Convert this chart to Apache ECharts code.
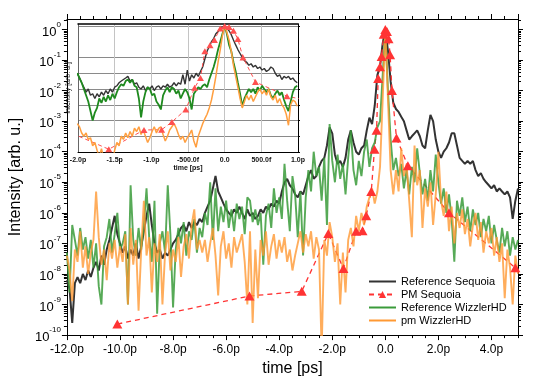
<!DOCTYPE html>
<html>
<head>
<meta charset="utf-8">
<script src="https://cdn.jsdelivr.net/npm/echarts@6/dist/echarts.min.js"></script>
<style>
  html, body { margin: 0; padding: 0; background: #fff; }
  #chart { width: 535px; height: 382px; }
</style>
</head>
<body>
<div id="chart"></div>
<script>
// main plot: samples every 0.1 ps from -12 ps
const MAIN_T0 = -12
const MAIN_DT = 0.1
const REF_SEQUOIA = [
  6.3e-9, 3.2e-9, 2.5e-10, 5e-9, 7.9e-9, 5e-9, 1e-8, 6.3e-9, 1.3e-8, 8e-9,
  1.6e-8, 2.5e-8, 1.3e-8, 4e-8, 2e-8, 6.3e-8, 1.3e-7, 3.2e-7, 8e-7, 2e-7,
  1e-7, 5e-8, 8e-8, 3.2e-8, 6.3e-8, 4e-8, 1e-7, 3.2e-8, 8e-8, 2.5e-7,
  8e-7, 2e-6, 4e-7, 1e-7, 5e-8, 6.3e-8, 3.2e-8, 5e-8, 4e-8, 6.3e-8,
  1e-7, 1.3e-7, 2e-7, 3.2e-7, 4e-7, 2.5e-7, 5e-7, 3.2e-7, 5e-7, 4e-7,
  6.3e-7, 5e-7, 1e-6, 1.6e-6, 2.5e-6, 6.3e-6, 1.6e-5, 5e-6, 3.2e-6, 2e-6,
  1.3e-6, 1e-6, 8e-7, 1.3e-6, 1e-6, 1.6e-6, 1e-6, 6.3e-7, 1.3e-6, 8e-7,
  1e-6, 6.3e-7, 8e-7, 1.3e-6, 1e-6, 1.6e-6, 1.3e-6, 2e-6, 1.6e-6, 2.5e-6,
  2e-6, 5e-6, 1e-5, 1.3e-5, 8e-6, 6.3e-6, 4e-6, 3.2e-6, 5e-6, 4e-6,
  8e-6, 1.6e-5, 2.5e-5, 1.3e-5, 1.6e-5, 3.2e-5, 5e-5, 6.3e-5, 1.6e-4, 6.3e-4,
  4e-4, 8e-5, 4e-5, 5e-5, 3.2e-5, 6.3e-5, 2.5e-4, 5e-4, 2e-4, 1e-4,
  8e-5, 1.3e-4, 1.6e-4, 5e-4, 1.3e-3, 8e-4, 3.2e-3, 3.2e-2, 6.3e-2, 0.35,
  1, 0.2, 2e-2, 4e-3, 2.5e-3, 2e-3, 1.4e-3, 1e-3, 5e-4, 2.5e-4,
  3.2e-4, 4e-4, 5e-4, 3.2e-4, 1.6e-4, 1.3e-4, 5e-4, 1.6e-3, 1e-3, 2.5e-4,
  1e-4, 6.3e-5, 1e-4, 1.3e-4, 2e-4, 4e-4, 4e-4, 1.6e-4, 6.3e-5, 5e-5,
  4e-5, 5e-5, 4e-5, 5e-5, 2.5e-5, 1.6e-5, 2e-5, 1.3e-5, 1e-5, 8e-6,
  6.3e-6, 8e-6, 5e-6, 6.3e-6, 5e-6, 4e-6, 5e-6, 3.2e-6, 6.3e-7, 2.5e-6,
  6.3e-6
]
const REF_WIZZLER = [
  5e-8, 2.5e-9, 4e-7, 1.3e-7, 4e-8, 3.2e-7, 6.3e-8, 1.6e-7, 3.2e-8, 1.3e-7,
  1.6e-8, 1e-7, 4e-9, 1e-9, 8e-8, 1.6e-7, 6.3e-7, 5e-8, 2e-7, 1e-6,
  6.3e-8, 1e-7, 2.5e-7, 1e-9, 8e-6, 1.3e-7, 4e-8, 3.2e-7, 6.3e-8, 4e-7,
  6.3e-6, 1.6e-7, 2.5e-8, 2.5e-6, 5e-10, 1e-7, 2.5e-7, 5e-8, 8e-6, 2e-7,
  8e-10, 6.3e-8, 3.2e-7, 1e-7, 5e-7, 4e-8, 2.5e-7, 1.3e-7, 6.3e-7, 5e-8,
  3.2e-7, 1.6e-7, 1e-6, 4e-7, 1e-5, 1.3e-7, 6.3e-6, 2.5e-7, 1.6e-6, 5e-7,
  2.5e-6, 3.2e-7, 1.3e-6, 2.5e-7, 2e-6, 6.3e-7, 1.6e-6, 2e-7, 3.2e-6, 2.5e-6,
  5e-7, 1.3e-6, 4e-7, 1e-6, 2e-8, 8e-7, 2e-6, 3.2e-7, 6.3e-6, 1e-6,
  3.2e-6, 6.3e-7, 4e-5, 2.5e-6, 2.5e-7, 1.6e-5, 4e-6, 1.6e-7, 5e-6, 4e-8,
  3.2e-6, 2.5e-5, 5e-6, 1e-4, 1.6e-5, 3.2e-5, 2.5e-6, 6.3e-5, 4e-7, 8e-4,
  5e-5, 1e-5, 8e-5, 1.3e-5, 4e-5, 4e-6, 6.3e-5, 5e-4, 2.5e-5, 8e-6,
  5e-5, 1.6e-5, 1e-4, 2.5e-4, 3.2e-5, 1.3e-4, 2e-4, 6.3e-4, 1e-3, 3.2e-2,
  1, 1e-2, 2.5e-4, 2.5e-5, 6.3e-5, 1.6e-5, 4e-5, 6.3e-6, 2.5e-5, 4e-6,
  3.2e-5, 1e-5, 1.3e-4, 2e-5, 4e-6, 1.3e-5, 2.5e-6, 2.5e-5, 5e-6, 8e-5,
  1e-5, 2e-6, 6.3e-6, 1e-6, 4e-6, 6.3e-7, 2.5e-8, 2.5e-6, 8e-7, 3.2e-6,
  5e-7, 1.6e-6, 2.5e-7, 1.3e-6, 4e-7, 1e-6, 1.6e-7, 6.3e-7, 2.5e-7, 8e-7,
  1e-7, 4e-7, 1.3e-7, 5e-8, 3.2e-7, 8e-8, 2.5e-7, 4e-8, 1.6e-7, 6.3e-8,
  1.3e-7
]
const PM_WIZZLER = [
  4e-8, 1.3e-8, 1.3e-9, 6.3e-8, 2.5e-8, 2.5e-7, 1.6e-8, 8e-8, 1e-8, 5e-8,
  1.3e-7, 5e-6, 1.6e-7, 2e-8, 6.3e-8, 6.3e-9, 1e-7, 3.2e-8, 1.3e-7, 1.6e-8,
  8e-8, 2.5e-8, 2e-7, 1e-9, 3.2e-7, 2e-8, 1.3e-7, 6.3e-10, 6.3e-8, 2.5e-6,
  4e-8, 1.6e-7, 2.5e-9, 1e-7, 2.5e-8, 2e-7, 1e-9, 5e-8, 2.5e-7, 1.3e-8,
  6.3e-8, 2.5e-8, 1.6e-7, 8e-9, 8e-8, 2e-7, 3.2e-8, 4e-7, 1.3e-6, 6.3e-8,
  1.3e-7, 5e-8, 1.3e-7, 2.5e-8, 1e-7, 3.2e-7, 4e-8, 2e-9, 8e-8, 2.5e-7,
  3.2e-8, 1e-7, 1.6e-8, 1.6e-7, 5e-8, 1e-7, 2e-7, 2.5e-8, 1e-9, 2.5e-7,
  2.5e-10, 6.3e-8, 1.6e-9, 1.3e-7, 4e-8, 2.5e-7, 2e-8, 8e-8, 2e-7, 3.2e-8,
  1.3e-7, 5e-8, 1.6e-7, 2.5e-8, 6.3e-8, 1.3e-8, 4e-8, 1e-7, 2.5e-7, 5e-8,
  2e-7, 8e-8, 2.5e-7, 3.2e-8, 1.6e-7, 6.3e-8, 3e-11, 1.3e-7, 4e-8, 5e-7,
  1.6e-7, 2.5e-8, 1e-7, 1e-9, 5e-8, 2.5e-9, 1.3e-7, 3.2e-7, 8e-8, 8e-7,
  2.5e-7, 1e-6, 4e-7, 1.6e-6, 3.2e-6, 6.3e-6, 2e-6, 5e-6, 3.2e-5, 5e-3,
  1, 5e-3, 2.5e-5, 4e-6, 2.5e-5, 5e-6, 1.3e-4, 1.6e-5, 4e-5, 2.5e-6,
  1.6e-7, 1.6e-4, 8e-6, 2.5e-5, 3.2e-7, 6.3e-6, 1.6e-6, 1e-5, 4e-7, 4e-6,
  1e-4, 2.5e-6, 8e-7, 5e-6, 2.5e-7, 1.6e-6, 1e-7, 1e-6, 3.2e-7, 1.3e-6,
  2e-7, 6.3e-7, 8e-8, 4e-7, 1e-6, 1.3e-7, 5e-7, 5e-8, 2.5e-7, 1e-7,
  3.2e-7, 4e-8, 1.6e-7, 2.5e-8, 1e-7, 1.6e-9, 6.3e-8, 1.6e-8, 1e-9, 4e-8,
  1e-8
]
// PM Sequoia: scattered measurement points
const PM_SEQ_T = [-10.1, -5.12, -3.15, -2.15, -1.58, -1.1, -0.86, -0.72, -0.53, -0.41, -0.33, -0.27,
  -0.2, -0.14, -0.06, 0, 0.06, 0.12, 0.18, 0.25, 0.42, 0.85, 2.4, 4.9]
const PM_SEQ = [2.3e-10, 1.9e-9, 2.7e-9, 2.1e-7, 1.5e-8, 2.5e-7, 2.6e-7, 8e-7, 5e-6, 1.2e-4, 5e-4, 2.5e-2,
  6e-2, 1.3e-1, 7e-1, 1, 8.5e-1, 5e-1, 1.5e-1, 1e-2, 2.8e-4, 3.5e-5, 1e-6, 1.6e-8]

// inset: samples every 0.03 ps from -2.01 ps
const INSET_T0 = -2.01
const INSET_DT = 0.03
const INSET_REF_SEQUOIA = [
  1e-3, 5e-4, 2.5e-4, 1.3e-4, 6.3e-5, 1e-4, 4e-5, 5e-5, 2.5e-5, 5e-5,
  3.2e-5, 6.3e-5, 4e-5, 8e-5, 5e-5, 1e-4, 6.3e-5, 1.3e-4, 1.6e-4, 2.5e-4,
  3.2e-4, 4e-4, 5e-4, 6.3e-4, 3.2e-4, 4e-4, 2e-4, 2.5e-4, 1.3e-4, 1e-4,
  1.6e-4, 8e-5, 1.3e-4, 1e-4, 1.6e-4, 8e-5, 1.3e-4, 1.6e-4, 1e-4, 1.6e-4,
  1.3e-4, 2e-4, 1.3e-4, 1.6e-4, 2.5e-4, 1.6e-4, 2.5e-4, 2e-4, 8e-4, 2e-4,
  1.6e-3, 3.2e-4, 8e-4, 5e-4, 1e-3, 6.3e-4, 1.3e-3, 2.5e-3, 8e-3, 2.5e-2,
  5e-2, 0.1, 0.16, 0.32, 0.45, 0.7, 0.89, 1, 0.7, 0.5,
  0.28, 0.13, 6.3e-2, 3.2e-2, 1.8e-2, 1e-2, 6.3e-3, 5e-3, 3.2e-3, 4e-3,
  2.5e-3, 3.2e-3, 2e-3, 2.5e-3, 1.6e-3, 2e-3, 1.3e-3, 1.6e-3, 2.5e-3, 2e-3,
  1e-3, 6.3e-4, 8e-4, 4e-4, 6.3e-4, 5e-4, 6.3e-4, 4e-4, 5e-4, 3.2e-4,
  2.5e-4
]
const INSET_REF_WIZZLER = [
  1e-3, 5e-4, 2.5e-4, 1e-4, 4e-5, 1.6e-5, 4e-6, 1e-6, 3.2e-6, 6.3e-6,
  2.5e-5, 1.3e-5, 3.2e-5, 1.6e-5, 4e-5, 2e-5, 5e-5, 2.5e-5, 6.3e-5, 1.3e-4,
  2e-4, 1.6e-4, 3.2e-4, 4e-4, 2.5e-4, 4e-4, 1.6e-4, 1.3e-4, 2.5e-5, 1.6e-6,
  1.6e-5, 6.3e-5, 1.3e-4, 1e-4, 4e-5, 5e-5, 1.6e-5, 1e-5, 5e-6, 4e-5,
  8e-5, 1.3e-4, 6.3e-5, 1.3e-4, 1e-4, 5e-5, 8e-5, 2.5e-5, 5e-5, 1e-4,
  6.3e-5, 2.5e-5, 5e-6, 5e-5, 8e-5, 1.3e-4, 1e-4, 1.6e-4, 2e-4, 1.3e-4,
  4e-4, 1e-3, 2.5e-3, 8e-3, 3.2e-2, 0.1, 0.32, 1, 0.32, 6.3e-2,
  2.5e-2, 5e-3, 1.3e-3, 2.5e-4, 5e-5, 8e-6, 2.5e-5, 5e-5, 1e-4, 6.3e-5,
  1e-4, 5e-5, 1.3e-4, 8e-5, 1.6e-4, 1e-4, 6.3e-5, 1e-4, 4e-5, 2.5e-5,
  5e-5, 8e-5, 4e-5, 6.3e-5, 2e-5, 8e-6, 4e-6, 1.6e-5, 6.3e-5, 1.3e-4,
  1.6e-4
]
const INSET_PM_WIZZLER = [
  6.3e-7, 4e-7, 1.6e-7, 1e-7, 1.6e-7, 6.3e-8, 8e-8, 2.5e-8, 4e-8, 1.3e-8,
  5e-9, 1.6e-8, 4e-9, 8e-9, 3.2e-9, 6.3e-9, 2.5e-9, 1.3e-8, 4e-8, 2.5e-8,
  1e-7, 6.3e-8, 1.6e-7, 8e-8, 2e-7, 1e-7, 3.2e-7, 2e-7, 4e-7, 1.3e-7,
  2.5e-7, 1e-7, 4e-8, 8e-8, 2e-7, 4e-7, 1.6e-7, 3.2e-7, 4e-7, 1.3e-7,
  5e-8, 1e-7, 2.5e-7, 4e-7, 6.3e-7, 3.2e-7, 1.3e-7, 6.3e-8, 1e-7, 4e-8,
  8e-8, 1.3e-7, 2.5e-7, 5e-8, 2e-8, 1e-7, 2.5e-7, 6.3e-7, 1.3e-6, 2.5e-6,
  6.3e-6, 2e-5, 1e-4, 6.3e-4, 5e-3, 3.2e-2, 0.25, 1, 0.4, 0.13,
  2.5e-2, 3.2e-3, 6.3e-4, 1.3e-4, 2.5e-5, 6.3e-6, 1.6e-5, 4e-5, 2e-5, 4e-5,
  1.6e-5, 3.2e-5, 6.3e-5, 1e-4, 5e-5, 8e-5, 4e-5, 1e-4, 3.2e-5, 2e-5,
  4e-5, 1.3e-5, 2.5e-5, 1e-5, 6.3e-6, 2.5e-6, 5e-7, 1e-5, 2e-5, 1.6e-5,
  8e-6
]

// axis ticks
const Y_DECADES = [1e-10, 1e-9, 1e-8, 1e-7, 1e-6, 1e-5, 1e-4, 1e-3, 1e-2, 1e-1, 1]
const Y_MAX = 2.2
const INSET_Y_TICKS = [1e-8, 1e-7, 1e-6, 1e-5, 1e-4, 1e-3, 1e-2, 1]
const LEGEND_NAMES = ['Reference Sequoia', 'PM Sequoia', 'Reference WizzlerHD', 'pm WizzlerHD']

const FONT = 'Liberation Sans, Arial, sans-serif'
const LINE_ICON = 'path://M0,0L27,0L27,2L0,2Z'

const Y_MINOR = []
Y_DECADES.forEach(d => {
  for (let k = 2; k <= 9; k++) {
    if (k * d <= Y_MAX) Y_MINOR.push(k * d)
  }
})

function sampled(t0, dt, vals) {
  return vals.map((v, i) => [Math.round((t0 + i * dt) * 1000) / 1000, v])
}

function fmtMainX(v) {
  return v === 0 ? '0.0' : v.toFixed(1) + 'p'
}
function fmtInsetX(v) {
  if (v === 0) return '0.0'
  if (Math.abs(v) >= 1) return v.toFixed(1) + 'p'
  return (v * 1000).toFixed(1) + 'f'
}
function fmtPow(v) {
  return '{b|10}{e|' + Math.round(Math.log10(v)) + '}'
}

const black = { show: true, onZero: false, lineStyle: { color: '#000', width: 1 } }
const noLine = { show: false, onZero: false }

function mainX(position, interval, len, extra) {
  return Object.assign({
    gridIndex: 0, type: 'value', position: position, min: -12, max: 5, interval: interval,
    axisLine: len === 5 ? black : noLine,
    axisTick: { show: true, length: len, lineStyle: { color: '#000' } },
    axisLabel: { show: false },
    splitLine: { show: false }
  }, extra || {})
}
function mainY(position, ticks, len, extra) {
  return Object.assign({
    gridIndex: 0, type: 'log', logBase: 10, position: position, min: 1e-10, max: Y_MAX,
    axisLine: len === 5 ? black : noLine,
    axisTick: { show: true, length: len, customValues: ticks, lineStyle: { color: '#000' } },
    axisLabel: { show: false },
    splitLine: { show: false }
  }, extra || {})
}

const option = {
  animation: false,
  backgroundColor: '#fff',
  textStyle: { fontFamily: FONT },
  grid: [
    { left: 60, right: 17, top: 19, bottom: 45 },
    { left: 78, top: 24, width: 220, height: 128 }
  ],
  legend: {
    data: [
      { name: LEGEND_NAMES[0], icon: LINE_ICON },
      { name: LEGEND_NAMES[1] },
      { name: LEGEND_NAMES[2], icon: LINE_ICON },
      { name: LEGEND_NAMES[3], icon: LINE_ICON }
    ],
    orient: 'vertical',
    left: 368,
    top: 276,
    itemWidth: 27,
    itemHeight: 9,
    itemGap: 2,
    padding: 0,
    selectedMode: false,
    textStyle: { fontSize: 11, color: '#000', fontFamily: FONT }
  },
  xAxis: [
    mainX('bottom', 2, 5, {
      axisLabel: { show: true, margin: 9, fontSize: 12, color: '#000', fontFamily: FONT, showMaxLabel: false, formatter: fmtMainX },
      name: 'time [ps]', nameLocation: 'middle', nameGap: 24,
      nameTextStyle: { fontSize: 16, color: '#000', fontFamily: FONT }
    }),
    mainX('bottom', 0.5, 3),
    mainX('top', 2, 5),
    mainX('top', 0.5, 3),
    {
      gridIndex: 1, type: 'value', position: 'bottom', min: -2, max: 1, interval: 0.5,
      axisLine: { show: true, onZero: false, lineStyle: { color: '#000', width: 1 } },
      axisTick: { show: false },
      axisLabel: { margin: 5, fontSize: 7, fontWeight: 'bold', color: '#111', fontFamily: FONT, formatter: fmtInsetX },
      splitLine: { show: true, lineStyle: { color: '#c4c4c4', width: 1 } },
      name: 'time [ps]', nameLocation: 'middle', nameGap: 12,
      nameTextStyle: { fontSize: 7, fontWeight: 'bold', color: '#111', fontFamily: FONT }
    },
    {
      gridIndex: 1, type: 'value', position: 'top', min: -2, max: 1,
      axisLine: { show: true, onZero: false, lineStyle: { color: '#000', width: 1.5 } },
      axisTick: { show: false }, axisLabel: { show: false }, splitLine: { show: false }
    }
  ],
  yAxis: [
    mainY('left', Y_DECADES, 5, {
      axisLabel: {
        show: true, customValues: Y_DECADES, margin: 6, formatter: fmtPow,
        rich: {
          b: { fontSize: 13, fontFamily: FONT, color: '#000', lineHeight: 18, verticalAlign: 'bottom' },
          e: { fontSize: 8, fontFamily: FONT, color: '#000', verticalAlign: 'top' }
        }
      },
      name: 'Intensity [arb. u.]', nameLocation: 'middle', nameGap: 34,
      nameTextStyle: { fontSize: 16, color: '#000', fontFamily: FONT }
    }),
    mainY('left', Y_MINOR, 3),
    mainY('right', Y_DECADES, 5),
    mainY('right', Y_MINOR, 3),
    {
      gridIndex: 1, type: 'log', logBase: 10, position: 'left', min: 1e-8, max: 1.34,
      axisLine: { show: true, onZero: false, lineStyle: { color: '#666', width: 1 } },
      axisTick: { show: false, customValues: INSET_Y_TICKS },
      axisLabel: { show: false },
      splitLine: { show: true, lineStyle: { color: '#8a8a8a', width: 1 } },
      name: 'Intensity [arb. u.]', nameLocation: 'middle', nameGap: 6,
      nameTextStyle: { fontSize: 7, color: '#111', fontFamily: FONT }
    },
    {
      gridIndex: 1, type: 'log', logBase: 10, position: 'right', min: 1e-8, max: 1.34,
      axisLine: { show: true, onZero: false, lineStyle: { color: '#000', width: 1 } },
      axisTick: { show: true, length: 2, customValues: INSET_Y_TICKS, lineStyle: { color: '#000' } },
      axisLabel: { show: false },
      splitLine: { show: false }
    }
  ],
  series: [
    {
      name: 'Reference Sequoia', type: 'line', xAxisIndex: 0, yAxisIndex: 0,
      data: sampled(MAIN_T0, MAIN_DT, REF_SEQUOIA),
      symbol: 'none', lineStyle: { color: '#333', width: 2 }, itemStyle: { color: '#333' }
    },
    {
      name: 'PM Sequoia', type: 'line', xAxisIndex: 0, yAxisIndex: 0,
      data: PM_SEQ_T.map((t, i) => [t, PM_SEQ[i]]),
      symbol: 'triangle', symbolSize: [10, 9], showSymbol: true,
      lineStyle: { color: '#ff3333', width: 1.3, type: [5, 4] },
      itemStyle: { color: '#ff3333' }
    },
    {
      name: 'Reference WizzlerHD', type: 'line', xAxisIndex: 0, yAxisIndex: 0,
      data: sampled(MAIN_T0, MAIN_DT, REF_WIZZLER),
      symbol: 'none', lineStyle: { color: '#3a9b3a', width: 1.9, opacity: 0.85 }, itemStyle: { color: '#3a9b3a' }
    },
    {
      name: 'pm WizzlerHD', type: 'line', xAxisIndex: 0, yAxisIndex: 0,
      data: sampled(MAIN_T0, MAIN_DT, PM_WIZZLER),
      symbol: 'none', lineStyle: { color: '#ff9933', width: 1.9, opacity: 0.8 }, itemStyle: { color: '#ff9933' }
    },
    // inset
    {
      name: 'inset Reference Sequoia', type: 'line', xAxisIndex: 4, yAxisIndex: 4,
      data: sampled(INSET_T0, INSET_DT, INSET_REF_SEQUOIA),
      symbol: 'none', lineStyle: { color: '#333', width: 1.4 }
    },
    {
      name: 'inset PM Sequoia', type: 'line', xAxisIndex: 4, yAxisIndex: 4,
      data: PM_SEQ_T.map((t, i) => [t, PM_SEQ[i]]),
      symbol: 'triangle', symbolSize: [7, 6], showSymbol: true,
      lineStyle: { color: '#ff5050', width: 1, type: [4, 3] },
      itemStyle: { color: '#ff5050' }
    },
    {
      name: 'inset Reference WizzlerHD', type: 'line', xAxisIndex: 4, yAxisIndex: 4,
      data: sampled(INSET_T0, INSET_DT, INSET_REF_WIZZLER),
      symbol: 'none', lineStyle: { color: '#1f8a1f', width: 1.8 }
    },
    {
      name: 'inset pm WizzlerHD', type: 'line', xAxisIndex: 4, yAxisIndex: 4,
      data: sampled(INSET_T0, INSET_DT, INSET_PM_WIZZLER),
      symbol: 'none', lineStyle: { color: '#ff9f40', width: 1.5 }
    }
  ]
}

const chart = echarts.init(document.getElementById('chart'))
chart.setOption(option)
</script>
</body>
</html>
